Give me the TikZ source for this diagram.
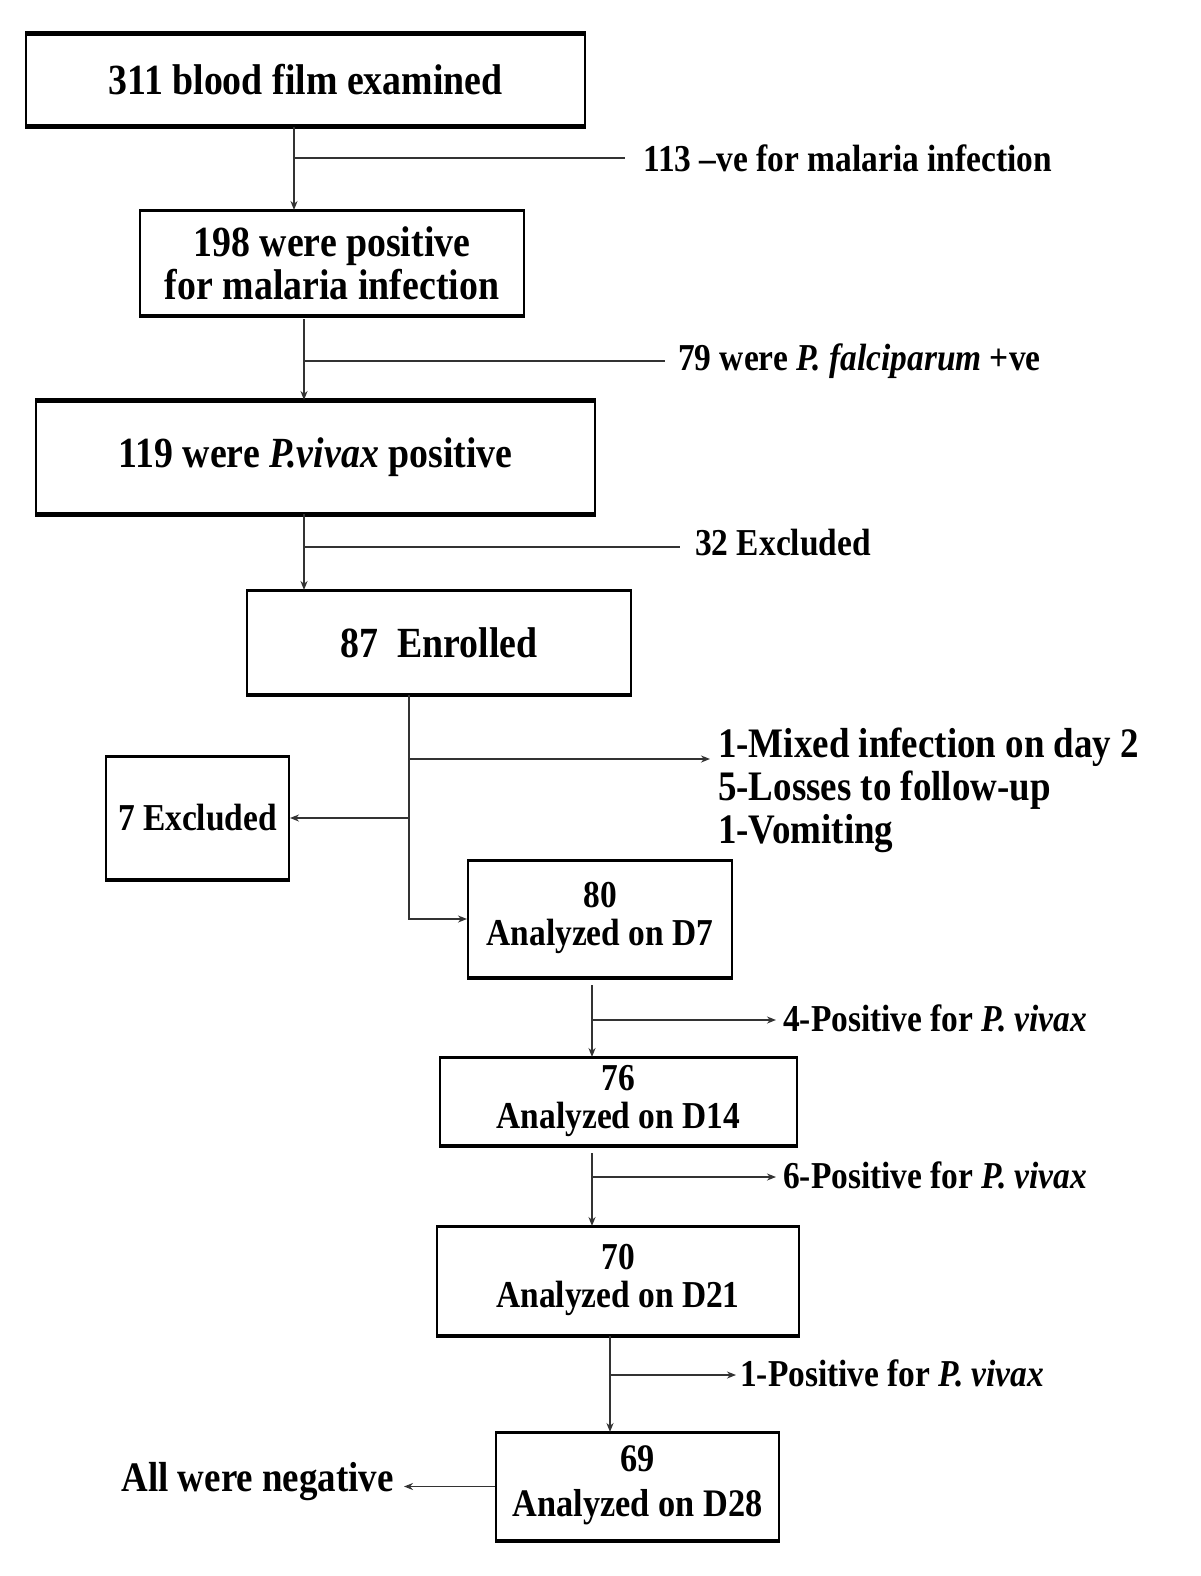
\documentclass[tikz,border=0pt]{standalone}
\usepackage{fontspec}
\setmainfont[FakeStretch=0.88]{Liberation Serif}
\usetikzlibrary{arrows.meta}
\begin{document}
\begin{tikzpicture}[x=1pt,y=-1pt,
 box/.style={draw=black, line width=2pt, inner sep=0pt, align=center, font=\bfseries\fontsize{43}{43}\selectfont},
 sbox/.style={box, font=\bfseries\fontsize{38}{38}\selectfont},
 lab/.style={anchor=west, inner sep=0pt, font=\bfseries\fontsize{38}{40}\selectfont},
 rlab/.style={inner sep=0pt, font=\bfseries\fontsize{42}{43}\selectfont},
 conn/.style={draw=black!80, line width=1.6pt},
 arr/.style={conn, -{Stealth[length=9pt,width=7pt]}},
 edge/.style={line width=5pt},
]
\useasboundingbox (0,0) rectangle (1200,1576);
\fill[white] (0,0) rectangle (1200,1576);

% boxes
\node[box, minimum width=559pt, minimum height=91pt] (b1) at (305.5,80.5) {\raisebox{3pt}{311 blood film examined}};
\node[box, minimum width=384pt, minimum height=104pt] (b2) at (332,263) {198 were positive\\for malaria infection};
\node[box, minimum width=559pt, minimum height=112pt] (b3) at (315.5,457) {119 were \textit{P.vivax} positive};
\node[box, minimum width=384pt, minimum height=103pt] (b4) at (439,642.5) {\raisebox{-6pt}{87\ \ Enrolled}};
\node[sbox, minimum width=183pt, minimum height=122pt] (b7) at (197.5,818) {7 Excluded};
\node[sbox, minimum width=264pt, minimum height=116pt] (b80) at (600,919) {\raisebox{11pt}{\begin{tabular}{@{}c@{}}80\\Analyzed on D7\end{tabular}}};
\node[sbox, minimum width=357pt, minimum height=87pt] (b76) at (618.5,1101.5) {\raisebox{6pt}{\begin{tabular}{@{}c@{}}76\\Analyzed on D14\end{tabular}}};
\node[sbox, minimum width=362pt, minimum height=108pt] (b70) at (618,1281) {\raisebox{10pt}{\begin{tabular}{@{}c@{}}70\\Analyzed on D21\end{tabular}}};
\node[sbox, font=\bfseries\fontsize{39}{39}\selectfont, minimum width=283pt, minimum height=107pt] (b69) at (637.5,1486.5) {\raisebox{4pt}{\begin{tabular}{@{}c@{}}69\\[6pt]Analyzed on D28\end{tabular}}};

% thick top/bottom edges
\foreach \b in {b1,b3} {
  \draw[edge] (\b.north west) -- (\b.north east);
  \draw[edge] (\b.south west) -- (\b.south east);
}
\foreach \b in {b2,b4,b7,b80,b76,b70,b69} {
  \draw[line width=3pt] (\b.north west) -- (\b.north east);
  \draw[line width=3pt] (\b.south west) -- (\b.south east);
}

% labels
\node[lab] (l1) at (643,158) {113 –ve for malaria infection};
\node[lab] (l2) at (678,361) {79 were \textit{P. falciparum} +ve};
\node[lab] (l3) at (695,543) {32 Excluded};
\node[rlab, anchor=west, align=left] (l4) at (718,790) {1-Mixed infection on day 2\\5-Losses to follow-up\\1-Vomiting};
\node[lab] (l6) at (783,1018) {4-Positive for \textit{P. vivax}};
\node[lab] (l7) at (783,1175) {6-Positive for \textit{P. vivax}};
\node[lab] (l8) at (740,1373) {1-Positive for \textit{P. vivax}};
\node[rlab, anchor=east] (l9) at (394,1482) {All were negative};

% junctions
\coordinate (j1) at (294,158);
\coordinate (j2) at (304,361);
\coordinate (j3) at (304,547);
\coordinate (j4) at (409,759);
\coordinate (e4) at (710,759);
\coordinate (j5) at (409,818);
\coordinate (j6) at (592,1020);
\coordinate (j7) at (592,1177);
\coordinate (j8) at (610,1375);

% connectors
\draw[arr] (b1.south -| j1) -- (b2.north -| j1);
\draw[conn] (j1) -- ([xshift=-18pt]l1.west |- j1);
\draw[arr, shorten <=3pt] (b2.south -| j2) -- (b3.north -| j2);
\draw[conn] (j2) -- ([xshift=-13pt]l2.west |- j2);
\draw[arr] (b3.south -| j3) -- (b4.north -| j3);
\draw[conn] (j3) -- ([xshift=-15pt]l3.west |- j3);
\draw[arr] (b4.south -| j4) |- (b80.west);
\draw[arr] (j4) -- (e4);
\draw[arr] (j5) -- (b7.east);
\draw[arr, shorten <=7pt] (b80.south -| j6) -- (b76.north -| j6);
\draw[arr] (j6) -- ([xshift=-7pt]l6.west |- j6);
\draw[arr, shorten <=7pt] (b76.south -| j7) -- (b70.north -| j7);
\draw[arr] (j7) -- ([xshift=-7pt]l7.west |- j7);
\draw[arr] (b70.south -| j8) -- (b69.north -| j8);
\draw[arr] (j8) -- ([xshift=-4pt]l8.west |- j8);
\draw[arr] (b69.west) -- ([xshift=10pt]l9.east |- b69.west);
\end{tikzpicture}
\end{document}
